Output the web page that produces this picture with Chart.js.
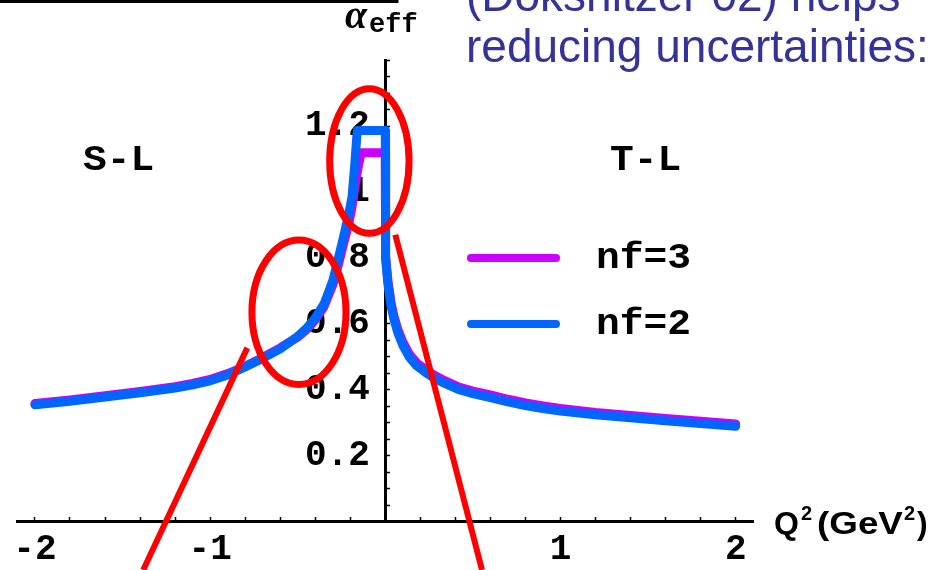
<!DOCTYPE html>
<html>
<head>
<meta charset="utf-8">
<script src="https://cdn.jsdelivr.net/npm/chart.js@4.4.1/dist/chart.umd.min.js"></script>
<style>
  html, body { margin: 0; padding: 0; background: #ffffff; }
  #wrap { position: relative; width: 935px; height: 570px; }
  canvas { display: block; }
</style>
</head>
<body>
<div id="wrap"><canvas id="chart" width="935" height="570"></canvas></div>
<script>
// Q^2 sample points (GeV^2); the two x = 0 entries make the vertical jump at the origin
const q2 = [-2.0, -1.8, -1.6, -1.4, -1.2, -1.1, -1.0, -0.9, -0.8, -0.7, -0.6,
            -0.5, -0.45, -0.4, -0.35, -0.3, -0.27, -0.24, -0.21, -0.19, -0.175,
            -0.16, -0.15, -0.137, 0, 0, 0.003, 0.006, 0.015, 0.034, 0.05,
            0.072, 0.1, 0.137, 0.18, 0.233, 0.28, 0.336, 0.42, 0.5, 0.6,
            0.7, 0.8, 0.9, 1.0, 1.2, 1.4, 1.6, 1.8, 2.0];

// effective coupling, three active flavours
const alphaNf3 = [0.358, 0.369, 0.382, 0.395, 0.409, 0.419, 0.431, 0.449, 0.471, 0.498, 0.527,
                  0.560, 0.582, 0.612, 0.652, 0.718, 0.775, 0.840, 0.900, 0.955, 1.010,
                  1.060, 1.090, 1.119, 1.119, 0.880, 0.805, 0.780, 0.730, 0.660, 0.622,
                  0.582, 0.545, 0.508, 0.481, 0.460, 0.444, 0.428, 0.408, 0.396, 0.384,
                  0.371, 0.360, 0.351, 0.343, 0.331, 0.322, 0.313, 0.304, 0.296];

// effective coupling, two active flavours
const alphaNf2 = [0.354, 0.365, 0.378, 0.391, 0.405, 0.415, 0.427, 0.445, 0.469, 0.495, 0.524,
                  0.562, 0.586, 0.618, 0.660, 0.730, 0.795, 0.860, 0.930, 0.985, 1.080,
                  1.187, 1.187, 1.187, 1.187, 0.880, 0.800, 0.772, 0.720, 0.651, 0.612,
                  0.572, 0.535, 0.499, 0.472, 0.451, 0.435, 0.420, 0.400, 0.388, 0.376,
                  0.363, 0.352, 0.343, 0.335, 0.324, 0.315, 0.306, 0.297, 0.289];

const seriesNames = ['nf=3', 'nf=2'];
const seriesColors = ['#cc00ff', '#0066ff'];

// axis ticks
const xTickValues = [-2, -1.8, -1.6, -1.4, -1.2, -1, -0.8, -0.6, -0.4, -0.2, 0,
                     0.2, 0.4, 0.6, 0.8, 1, 1.2, 1.4, 1.6, 1.8, 2];
const xTickLabels = [-2, -1, 1, 2];
const yTickValues = [0, 0.05, 0.1, 0.15, 0.2, 0.25, 0.3, 0.35, 0.4, 0.45, 0.5, 0.55,
                     0.6, 0.65, 0.7, 0.75, 0.8, 0.85, 0.9, 0.95, 1, 1.05, 1.1, 1.15,
                     1.2, 1.25, 1.3, 1.35, 1.4];
const yTickLabels = [0.2, 0.4, 0.6, 0.8, 1, 1.2];

// highlight rings and pointer strokes, in (Q^2, alpha) units
const rings = [
  { cx: -0.091, cy: 1.094, rx: 0.2265, ry: 0.2195 },
  { cx: -0.493, cy: 0.635, rx: 0.2685, ry: 0.219 }
];
const pointers = [
  { x1: -0.788, y1: 0.527, x2: -1.382, y2: -0.147 },
  { x1: 0.057, y1: 0.870, x2: 0.552, y2: -0.147 }
];

const monoBold = 'bold 36px "Liberation Mono", "Courier New", monospace';

const toPoints = ys => q2.map((x, i) => ({ x: x, y: ys[i] }));

// monospace label, slightly widened like the tick lettering
function wideText(ctx, text, x, y) {
  ctx.save();
  ctx.translate(x, y);
  ctx.scale(1.1, 1);
  ctx.fillText(text, 0, 0);
  ctx.restore();
}

const decor = {
  id: 'decor',
  beforeDraw(chart) {
    const ctx = chart.ctx;
    ctx.save();
    ctx.fillStyle = '#ffffff';
    ctx.fillRect(0, 0, chart.width, chart.height);
    ctx.restore();
  },
  afterDraw(chart) {
    const ctx = chart.ctx;
    const xs = chart.scales.x, ys = chart.scales.y;
    ctx.save();

    // frame edge of the box above the plot
    ctx.strokeStyle = '#000000';
    ctx.lineWidth = 3;
    ctx.strokeRect(-10, -60, 407, 61.5);

    // heading text
    ctx.fillStyle = '#333399';
    ctx.font = '46px "Liberation Sans", Arial, sans-serif';
    ctx.textAlign = 'left';
    ctx.textBaseline = 'alphabetic';
    ctx.fillText('(Dokshitzer 02) helps', 466, 11);
    ctx.fillText('reducing uncertainties:', 466, 62);

    // axis titles
    ctx.fillStyle = '#000000';
    ctx.font = 'bold italic 40px "Liberation Serif", "Times New Roman", serif';
    ctx.fillText('\u03b1', 345, 28);
    ctx.font = 'bold 27px "Liberation Mono", "Courier New", monospace';
    ctx.fillText('eff', 369, 32);

    const big = 'bold 32px "Liberation Sans", Arial, sans-serif';
    const small = 'bold 20px "Liberation Sans", Arial, sans-serif';
    let px = 774;
    const base = 534;
    ctx.font = big;
    ctx.fillText('Q', px, base); px += ctx.measureText('Q').width + 2;
    ctx.font = small;
    ctx.fillText('2', px, base - 14); px += ctx.measureText('2').width + 5;
    ctx.font = big;
    ctx.save();
    ctx.translate(px, base);
    ctx.scale(1.15, 1);
    ctx.fillText('(GeV', 0, 0);
    px += ctx.measureText('(GeV').width * 1.15 + 1;
    ctx.restore();
    ctx.font = small;
    ctx.fillText('2', px, base - 14); px += ctx.measureText('2').width + 2;
    ctx.font = big;
    ctx.fillText(')', px, base);

    // region tags
    ctx.font = monoBold;
    ctx.textBaseline = 'middle';
    wideText(ctx, 'S-L', 83, 161);
    wideText(ctx, 'T-L', 610, 161);

    // legend
    const rows = [258, 324];
    chart.data.datasets.forEach((ds, i) => {
      ctx.strokeStyle = ds.borderColor;
      ctx.lineWidth = 8;
      ctx.lineCap = 'round';
      ctx.beginPath();
      ctx.moveTo(471, rows[i]);
      ctx.lineTo(556, rows[i]);
      ctx.stroke();
      ctx.fillStyle = '#000000';
      ctx.font = monoBold;
      wideText(ctx, ds.label, 596, rows[i] + 1);
    });

    // red highlight marks
    ctx.strokeStyle = '#ff0000';
    ctx.lineCap = 'butt';
    ctx.lineWidth = 7;
    rings.forEach(r => {
      const cx = xs.getPixelForValue(r.cx), cy = ys.getPixelForValue(r.cy);
      const rx = xs.getPixelForValue(r.cx + r.rx) - cx;
      const ry = cy - ys.getPixelForValue(r.cy + r.ry);
      ctx.beginPath();
      ctx.ellipse(cx, cy, rx, ry, 0, 0, Math.PI * 2);
      ctx.stroke();
    });
    ctx.lineWidth = 6;
    pointers.forEach(p => {
      ctx.beginPath();
      ctx.moveTo(xs.getPixelForValue(p.x1), ys.getPixelForValue(p.y1));
      ctx.lineTo(xs.getPixelForValue(p.x2), ys.getPixelForValue(p.y2));
      ctx.stroke();
    });
    ctx.restore();
  }
};

const tickFont = { family: '"Liberation Mono", "Courier New", monospace', size: 36, weight: 'bold' };

new Chart(document.getElementById('chart'), {
  type: 'line',
  data: {
    datasets: [
      { label: seriesNames[0], data: toPoints(alphaNf3), borderColor: seriesColors[0], order: 2 },
      { label: seriesNames[1], data: toPoints(alphaNf2), borderColor: seriesColors[1], order: 1 }
    ]
  },
  options: {
    responsive: false,
    animation: false,
    devicePixelRatio: 1,
    layout: { padding: { left: 14.8, right: 181.8, top: 60.2, bottom: 48.5 } },
    elements: {
      point: { radius: 0, hoverRadius: 0 },
      line: { borderWidth: 9, tension: 0, borderCapStyle: 'round', borderJoinStyle: 'round', fill: false }
    },
    plugins: { legend: { display: false }, tooltip: { enabled: false } },
    scales: {
      x: {
        type: 'linear', min: -2.1, max: 2.1,
        position: { y: 0 },
        afterFit: s => { s.height = 0; },
        afterBuildTicks: s => { s.ticks = xTickValues.map(v => ({ value: v })); },
        border: { display: true, width: 3, color: '#000000' },
        grid: { drawOnChartArea: false, drawTicks: true, tickLength: -6, tickWidth: 1.5, color: '#000000' },
        ticks: {
          autoSkip: false, maxRotation: 0, padding: 13, color: '#000000', font: tickFont,
          callback: v => xTickLabels.includes(v) ? String(v) : ''
        }
      },
      y: {
        type: 'linear', min: 0, max: 1.4,
        position: { x: 0 },
        afterFit: s => { s.width = 0; },
        afterBuildTicks: s => { s.ticks = yTickValues.map(v => ({ value: v })); },
        border: { display: true, width: 3, color: '#000000' },
        grid: { drawOnChartArea: false, drawTicks: true, tickLength: -6, tickWidth: 1.5, color: '#000000' },
        ticks: { display: false }
      },
      yLabels: {
        type: 'linear', min: 0, max: 1.4,
        position: { x: -0.088 },
        afterFit: s => { s.width = 0; },
        afterBuildTicks: s => { s.ticks = yTickLabels.map(v => ({ value: v })); },
        border: { display: false },
        grid: { display: false },
        ticks: { color: '#000000', font: tickFont, callback: v => String(v) }
      }
    }
  },
  plugins: [decor]
});
</script>
</body>
</html>
